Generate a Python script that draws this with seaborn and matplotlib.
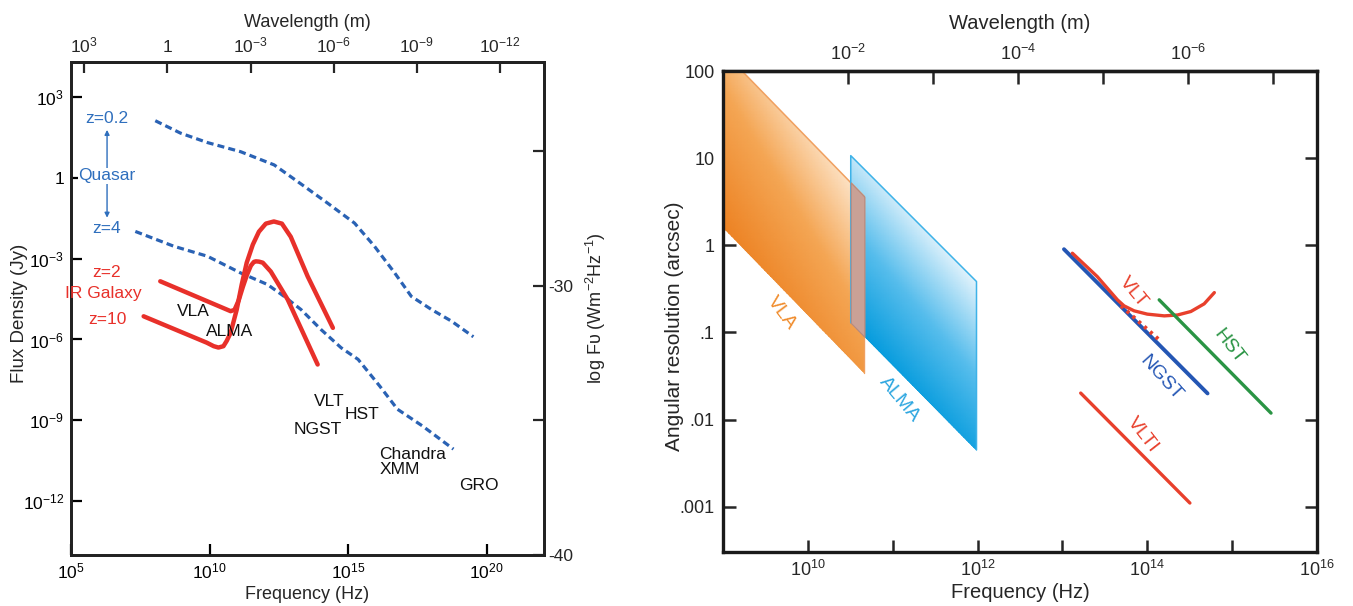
import numpy as np
import seaborn as sns
import matplotlib
matplotlib.use("Agg")
from matplotlib import pyplot as plt
from matplotlib.ticker import NullLocator
from matplotlib.colors import LinearSegmentedColormap
from matplotlib.patches import Polygon

# ------------------------------------------------------------------
# Left panel: flux density (Jy) vs frequency, values are log10
quasar_z02_lognu = [8.04, 8.95, 9.92, 11.12, 12.33, 13.18, 14.26, 15.23, 15.95, 16.68, 17.28, 18.01, 18.73, 19.52]
quasar_z02_logflux = [2.12, 1.66, 1.31, 0.97, 0.48, -0.14, -0.94, -1.68, -2.54, -3.53, -4.40, -4.89, -5.32, -5.90]

quasar_z4_lognu = [7.32, 8.71, 9.92, 11.12, 12.09, 12.69, 13.30, 14.02, 14.75, 15.36, 16.14, 16.78, 17.68, 18.80]
quasar_z4_logflux = [-1.99, -2.54, -2.91, -3.53, -3.96, -4.40, -4.89, -5.63, -6.31, -6.74, -7.73, -8.59, -9.21, -10.07]

irgal_z2_lognu = [8.22, 10.76, 10.90, 11.05, 11.20, 11.35, 11.49, 11.60, 11.67, 11.78, 11.92, 12.21, 12.82, 13.90]
irgal_z2_logflux = [-3.84, -4.95, -4.90, -4.55, -4.05, -3.60, -3.26, -3.12, -3.10, -3.11, -3.15, -3.48, -4.52, -6.93]

irgal_z10_lognu = [7.62, 9.90, 10.15, 10.32, 10.50, 10.62, 10.76, 10.98, 11.16, 11.34, 11.56, 11.78, 12.03, 12.32, 12.61, 12.93, 13.54, 14.45]
irgal_z10_logflux = [-5.14, -6.12, -6.25, -6.30, -6.25, -6.05, -5.75, -4.89, -3.96, -3.15, -2.48, -2.00, -1.70, -1.62, -1.70, -2.19, -3.66, -5.57]

freq_ticks = [1e5, 1e10, 1e15, 1e20]
freq_labels = ["$10^{5}$", "$10^{10}$", "$10^{15}$", "$10^{20}$"]
flux_ticks = [1e3, 1, 1e-3, 1e-6, 1e-9, 1e-12]
flux_labels = ["$10^{3}$", "1", "$10^{-3}$", "$10^{-6}$", "$10^{-9}$", "$10^{-12}$"]
wave_ticks_l = [1e3, 1, 1e-3, 1e-6, 1e-9, 1e-12]
wave_labels_l = ["$10^{3}$", "1", "$10^{-3}$", "$10^{-6}$", "$10^{-9}$", "$10^{-12}$"]
si_ticks = [-25, -30, -35, -40]
si_labels = ["", "-30", "", "-40"]

# ------------------------------------------------------------------
# Right panel: angular resolution (arcsec) vs frequency, log10 values
vla_lognu = [8.8, 10.665]
vla_res_hi = [2.424, 0.559]
vla_res_lo = [0.40, -1.465]

alma_lognu = [10.505, 11.987]
alma_res_hi = [1.029, -0.416]
alma_res_lo = [-0.89, -2.35]

ngst_lognu = [13.018, 14.71]
ngst_logres = [-0.045, -1.70]

vlt_lognu = [13.117, 13.41, 13.648, 13.726, 13.844, 14.0, 14.2, 14.356, 14.513, 14.67, 14.79]
vlt_logres = [-0.091, -0.359, -0.626, -0.695, -0.752, -0.79, -0.81, -0.80, -0.76, -0.672, -0.543]

vlt_ao_lognu = [13.69, 14.14]
vlt_ao_logres = [-0.695, -1.085]

hst_lognu = [14.14, 15.458]
hst_logres = [-0.626, -1.926]

vlti_lognu = [13.215, 14.502]
vlti_logres = [-1.696, -2.958]

res_ticks = [100, 10, 1, 0.1, 0.01, 0.001]
res_labels = ["100", "10", "1", ".1", ".01", ".001"]
freq2_ticks = [1e10, 1e11, 1e12, 1e13, 1e14, 1e15, 1e16]
freq2_labels = ["$10^{10}$", "", "$10^{12}$", "", "$10^{14}$", "", "$10^{16}$"]
wave2_ticks = [1e-2, 1e-3, 1e-4, 1e-5, 1e-6, 1e-7]
wave2_labels = ["$10^{-2}$", "", "$10^{-4}$", "", "$10^{-6}$", ""]

C_LIGHT = 3e8

sns.set_theme(style="ticks")
plt.rcParams["font.family"] = ["Liberation Sans", "DejaVu Sans"]
plt.rcParams["mathtext.fontset"] = "custom"
plt.rcParams["mathtext.rm"] = "Liberation Sans"
plt.rcParams["mathtext.it"] = "Liberation Sans:italic"
plt.rcParams["mathtext.bf"] = "Liberation Sans:bold"
plt.rcParams["mathtext.default"] = "regular"

RED = "#e8302a"
QBLUE = "#2a62b4"
TBLUE = "#2f6fbd"


def p10(a):
    return 10 ** np.asarray(a, dtype=float)


def nu2lam(x):
    x = np.asarray(x, dtype=float)
    with np.errstate(divide="ignore"):
        return C_LIGHT / x


fig = plt.figure(figsize=(13.53, 6.06), dpi=100)
ax1 = fig.add_axes([0.0525, 0.0842, 0.3496, 0.8135])
ax2 = fig.add_axes([0.5344, 0.0891, 0.4390, 0.7937])

# ------------------------------------------------------------------ left
ax1.set_xscale("log")
ax1.set_yscale("log")
ylo, yhi = 1e-14, 10 ** 4.3
ax1.set_xlim(1e5, 10 ** 22.07)
ax1.set_ylim(ylo, yhi)

qdash = (0, (2.2, 1.3))
sns.lineplot(x=p10(quasar_z02_lognu), y=p10(quasar_z02_logflux), sort=False, estimator=None,
             color=QBLUE, lw=2.3, linestyle=qdash, ax=ax1)
sns.lineplot(x=p10(quasar_z4_lognu), y=p10(quasar_z4_logflux), sort=False, estimator=None,
             color=QBLUE, lw=2.3, linestyle=qdash, ax=ax1)
sns.lineplot(x=p10(irgal_z2_lognu), y=p10(irgal_z2_logflux), sort=False, estimator=None,
             color=RED, lw=3.2, ax=ax1)
sns.lineplot(x=p10(irgal_z10_lognu), y=p10(irgal_z10_logflux), sort=False, estimator=None,
             color=RED, lw=3.2, ax=ax1)

ax1.set_xticks(freq_ticks, labels=freq_labels)
ax1.set_yticks(flux_ticks, labels=flux_labels)
ax1.minorticks_off()
ax1.tick_params(direction="in", length=8, width=1.6, labelsize=12.5, pad=5, colors="black")
ax1.set_xlabel("Frequency (Hz)", fontsize=13, labelpad=3)
ax1.set_ylabel("Flux Density (Jy)", fontsize=13.5)
ax1.yaxis.set_label_coords(-0.09, 0.49)
for s in ax1.spines.values():
    s.set_linewidth(2)
    s.set_color("#222222")

top1 = ax1.secondary_xaxis("top", functions=(nu2lam, nu2lam))
top1.set_xticks(wave_ticks_l, labels=wave_labels_l)
top1.xaxis.set_minor_locator(NullLocator())
top1.tick_params(direction="in", length=8, width=1.6, labelsize=12.5, pad=5)
top1.set_xlabel("Wavelength (m)", fontsize=13, labelpad=6)
top1.spines["top"].set_linewidth(2)

axr = ax1.twinx()
axr.set_ylim(np.log10(ylo) - 26, np.log10(yhi) - 26)
axr.set_yticks(si_ticks, labels=si_labels)
axr.tick_params(direction="in", length=8, width=1.6, labelsize=12.5, pad=3)
axr.set_ylabel("log Fυ (Wm$^{-2}$Hz$^{-1}$)", fontsize=13, labelpad=8)
for s in axr.spines.values():
    s.set_linewidth(2)
    s.set_color("#222222")
axr.set_zorder(ax1.get_zorder() - 1)
ax1.patch.set_visible(False)

# labels on the left panel
lx = 10 ** 6.30
ax1.annotate("", xy=(lx, 10 ** 1.78), xytext=(lx, 10 ** -1.48),
             arrowprops=dict(arrowstyle="<|-|>", color=TBLUE, lw=1.0, mutation_scale=7,
                             shrinkA=0, shrinkB=0))
ax1.text(lx, 10 ** 2.22, "z=0.2", color=TBLUE, fontsize=12.5, ha="center", va="center")
ax1.text(lx, 10 ** 0.07, "Quasar", color=TBLUE, fontsize=12.5, ha="center", va="center",
         bbox=dict(facecolor="white", edgecolor="none", pad=0.5))
ax1.text(lx, 10 ** -1.89, "z=4", color=TBLUE, fontsize=12.5, ha="center", va="center",
         bbox=dict(facecolor="white", edgecolor="none", pad=0.3))
ax1.text(lx, 10 ** -3.52, "z=2", color=RED, fontsize=12.5, ha="center", va="center")
ax1.text(10 ** 6.15, 10 ** -4.30, "IR Galaxy", color=RED, fontsize=12.5, ha="center", va="center",
         zorder=5, clip_on=False)
ax1.text(lx, 10 ** -5.26, "z=10", color=RED, fontsize=12.5, ha="center", va="center")

facility_names = ["VLA", "ALMA", "VLT", "HST", "NGST", "Chandra", "XMM", "GRO"]
facility_lognu = [9.42, 10.72, 14.31, 15.51, 13.91, 17.32, 16.85, 19.71]
facility_logflux = [-4.96, -5.70, -8.30, -8.78, -9.33, -10.26, -10.81, -11.41]
for name, fx, fy in zip(facility_names, facility_lognu, facility_logflux):
    ax1.text(10 ** fx, 10 ** fy, name, color="#111111", fontsize=12.5, ha="center", va="center")

# ------------------------------------------------------------------ right
ax2.set_xscale("log")
ax2.set_yscale("log")
ax2.set_xlim(1e9, 1e16)
ax2.set_ylim(10 ** -3.52, 100)


def gradient_band(ax, lognu, lo, hi, colors, tilt):
    # shaded parallelogram: colour runs from the lower-left edge to the upper-right corner
    g_nu = np.linspace(lognu[0], lognu[1], 50)
    g_th = np.linspace(min(lo), max(hi), 120)
    NU, TH = np.meshgrid(g_nu, g_th)
    u = TH + tilt * NU
    corner_u = [lo[0] + tilt * lognu[0], lo[1] + tilt * lognu[1],
                hi[0] + tilt * lognu[0], hi[1] + tilt * lognu[1]]
    t = (u - min(corner_u)) / (max(corner_u) - min(corner_u))
    cmap = LinearSegmentedColormap.from_list("band", colors)
    mesh = ax.pcolormesh(p10(NU), p10(TH), t, cmap=cmap, vmin=0, vmax=1,
                         shading="gouraud", zorder=1)
    verts = np.column_stack([p10([lognu[0], lognu[1], lognu[1], lognu[0]]),
                             p10([lo[0], lo[1], hi[1], hi[0]])])
    clip = Polygon(verts, closed=True, facecolor="none", edgecolor="none", transform=ax.transData)
    ax.add_patch(clip)
    mesh.set_clip_path(clip)


gradient_band(ax2, vla_lognu, vla_res_lo, vla_res_hi,
              [(0, "#ec8020"), (0.55, "#f4a654"), (1, "#fde6cc")], 1.6)
gradient_band(ax2, alma_lognu, alma_res_lo, alma_res_hi,
              [(0, "#049bdd"), (0.5, "#56bdec"), (1, "#e2f3fc")], 1.15)

# outlines
ax2.plot(p10(vla_lognu), p10(vla_res_hi), color="#f0a060", lw=1.1, zorder=2)
ax2.plot(p10([vla_lognu[1], vla_lognu[1]]), p10([vla_res_lo[1], vla_res_hi[1]]), color="#f0a060", lw=1.0, zorder=2)
ax2.plot(p10([alma_lognu[0], alma_lognu[0], alma_lognu[1], alma_lognu[1]]),
         p10([alma_res_lo[0], alma_res_hi[0], alma_res_hi[1], alma_res_lo[1]]),
         color="#3db2e8", lw=1.1, zorder=2)

# VLA / ALMA overlap
ov_lognu = [alma_lognu[0], vla_lognu[1]]
ov_hi = np.interp(ov_lognu, vla_lognu, vla_res_hi)
ov_lo = np.interp(ov_lognu, alma_lognu, alma_res_lo)
ax2.fill_between(p10(ov_lognu), p10(ov_lo), p10(ov_hi), color="#c9a196", edgecolor="#b88a80", lw=0.8, zorder=3)

sns.lineplot(x=p10(ngst_lognu), y=p10(ngst_logres), sort=False, estimator=None, color="#2456b4", lw=2.8, ax=ax2)
sns.lineplot(x=p10(vlt_lognu), y=p10(vlt_logres), sort=False, estimator=None, color="#e8402c", lw=2.4, ax=ax2)
sns.lineplot(x=p10(vlt_ao_lognu), y=p10(vlt_ao_logres), sort=False, estimator=None, color="#e8402c", lw=2.8,
             linestyle=(0, (0.8, 1.2)), ax=ax2)
sns.lineplot(x=p10(hst_lognu), y=p10(hst_logres), sort=False, estimator=None, color="#2a9444", lw=2.4, ax=ax2)
sns.lineplot(x=p10(vlti_lognu), y=p10(vlti_logres), sort=False, estimator=None, color="#e8402c", lw=2.4, ax=ax2)

inst_names = ["VLA", "ALMA", "VLT", "NGST", "HST", "VLTI"]
inst_colors = ["#f08c2c", "#2ca6e0", "#e8402c", "#2456b4", "#2a9444", "#e8402c"]
inst_lognu = [9.685, 11.08, 13.83, 14.16, 14.96, 13.95]
inst_logres = [-0.775, -1.77, -0.534, -1.52, -1.165, -2.17]
inst_rot = [-53, -50, -50, -48, -52, -52]
for name, col, fx, fy, rot in zip(inst_names, inst_colors, inst_lognu, inst_logres, inst_rot):
    ax2.text(10 ** fx, 10 ** fy, name, color=col, fontsize=14, ha="center", va="center",
             rotation=rot, rotation_mode="anchor")

ax2.set_xticks(freq2_ticks, labels=freq2_labels)
ax2.set_yticks(res_ticks, labels=res_labels)
ax2.minorticks_off()
ax2.tick_params(direction="in", length=9, width=1.8, labelsize=13, pad=6, right=True)
ax2.set_xlabel("Frequency (Hz)", fontsize=14.5, labelpad=2)
ax2.set_ylabel("Angular resolution (arcsec)", fontsize=15, labelpad=5)
ax2.yaxis.set_label_coords(-0.065, 0.47)
for s in ax2.spines.values():
    s.set_linewidth(2.4)
    s.set_color("#1a1a1a")

top2 = ax2.secondary_xaxis("top", functions=(nu2lam, nu2lam))
top2.set_xticks(wave2_ticks, labels=wave2_labels)
top2.xaxis.set_minor_locator(NullLocator())
top2.tick_params(direction="in", length=9, width=1.8, labelsize=13, pad=5)
top2.set_xlabel("Wavelength (m)", fontsize=14.5, labelpad=11)
top2.spines["top"].set_linewidth(2.4)

fig.savefig("out.png", dpi=100, facecolor="white")
